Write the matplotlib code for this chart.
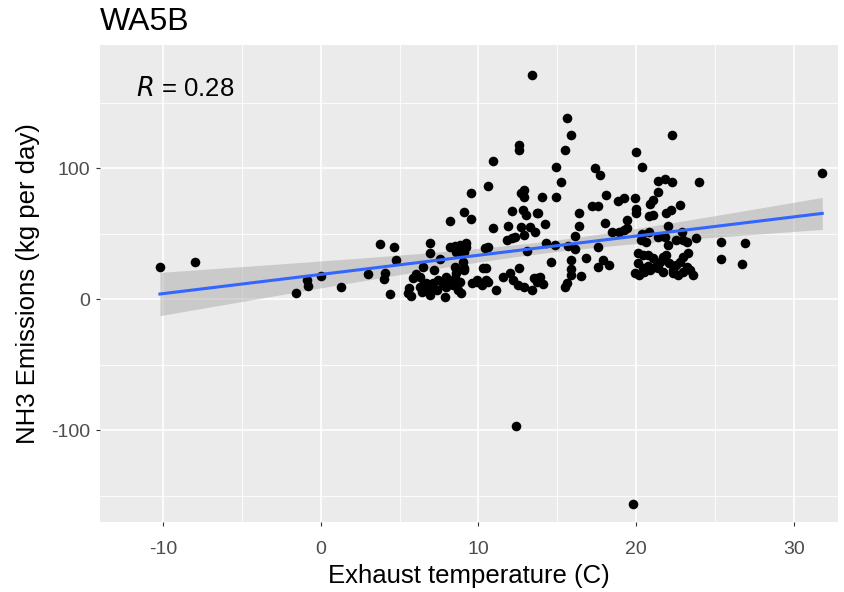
import numpy as np
import matplotlib
matplotlib.use("Agg")
import matplotlib.pyplot as plt

plt.rcParams['font.family'] = ['Liberation Sans', 'DejaVu Sans']
plt.rcParams['axes.unicode_minus'] = False

title = "WA5B"
x_label = "Exhaust temperature (C)"
y_label = "NH3 Emissions (kg per day)"
x_ticks = [-10, 0, 10, 20, 30]
y_ticks = [-100, 0, 100]
r_value = 0.28

temp = [
    -10.2, -7.95, -1.54, -0.87, -0.8, 0.0, 1.3,
    2.98, 3.74, 4.0, 4.1, 4.4, 4.63, 4.8, 5.55, 5.6, 5.75, 5.85,
    6.07, 6.28, 6.28, 6.47, 6.4, 6.5, 6.7, 6.8, 6.9, 6.9, 6.9, 7.0, 7.1, 7.2, 7.34, 7.44,
    7.55, 7.75, 7.86, 7.97, 7.97, 8.18, 8.18, 8.2, 8.3, 8.4, 8.5, 8.5, 8.5, 8.6, 8.6,
    8.7, 8.7, 8.8, 8.8, 8.9, 9.0, 9.07, 9.1, 9.1, 9.1, 9.2, 9.24, 9.55, 9.55, 9.6,
    9.9, 9.9, 10.2, 10.3, 10.4, 10.5, 10.5, 10.6, 10.6, 10.6, 10.9, 10.9, 11.1,
    11.55, 11.8, 11.9, 12.0, 12.1, 12.1, 12.2, 12.3, 12.4, 12.5, 12.6, 12.6, 12.6,
    12.7, 12.7, 12.8, 12.9, 12.9, 12.9, 12.9, 13.0, 13.05, 13.25, 13.4, 13.4, 13.5,
    13.6, 13.7, 13.7, 13.7, 13.8, 13.9, 14.05, 14.1, 14.25, 14.3, 14.6, 14.84, 14.9,
    14.9, 15.26, 15.5, 15.5, 15.6, 15.6, 15.7, 15.85, 15.9, 15.9, 15.9, 16.1, 16.1,
    16.4, 16.4, 16.5, 16.85, 17.2, 17.4, 17.6, 17.6, 17.6, 17.7, 17.9, 18.0, 18.1,
    18.3, 18.5, 18.85, 18.9, 19.2, 19.2, 19.4, 19.4, 19.8, 19.9, 19.9, 20.0, 20.0,
    20.0, 20.1, 20.1, 20.2, 20.3, 20.4, 20.4, 20.45, 20.45, 20.5, 20.65, 20.75, 20.75,
    20.8, 20.8, 20.9, 20.9, 21.1, 21.1, 21.1, 21.2, 21.4, 21.4, 21.4, 21.4, 21.5,
    21.7, 21.7, 21.8, 21.8, 21.9, 21.9, 22.0, 22.0, 22.1, 22.2, 22.3, 22.3, 22.35,
    22.35, 22.55, 22.55, 22.65, 22.8, 22.8, 22.9, 23.0, 23.0, 23.0, 23.2, 23.2, 23.3,
    23.4, 23.6, 23.8, 24.0, 25.4, 25.4, 26.7, 26.9, 31.8,
]
nh3 = [
    24.7, 28.0, 4.8, 14.5, 10.2, 17.8, 8.9,
    19.0, 42.0, 15.0, 19.8, 3.8, 40.0, 29.8, 4.8, 8.2, 2.5, 15.8,
    19.0, 17.0, 9.4, 24.7, 5.6, 10.7, 12.0, 8.4, 42.7, 35.0, 3.0, 8.2, 12.0, 22.1, 6.9, 14.5,
    30.5, 10.7, 1.5, 9.4, 17.0, 40.0, 59.5, 13.2, 12.0, 10.7, 16.0, 24.7, 40.5, 19.8, 36.1,
    6.9, 35.0, 41.2, 13.2, 4.6, 28.5, 66.6, 23.7, 22.1, 36.1, 42.7, 40.0, 81.0, 60.8, 12.0,
    13.2, 14.5, 10.7, 23.7, 39.0, 14.5, 23.4, 40.0, 13.2, 86.0, 54.0, 105.0, 6.9,
    17.0, 45.0, 55.7, 19.8, 67.4, 46.5, 14.5, 47.5, -96.7, 10.7, 117.5, 113.7, 23.7,
    55.0, 80.7, 68.0, 78.0, 48.9, 9.4, 83.0, 64.0, 36.9, 55.0, 6.9, 171.0, 15.8,
    51.4, 65.6, 16.0, 13.2, 66.0, 17.0, 78.0, 11.5, 57.0, 42.5, 28.0, 41.0, 77.6,
    101.0, 89.0, 114.0, 9.4, 12.0, 138.0, 40.5, 18.3, 125.0, 29.8, 22.7, 48.0, 38.0,
    66.0, 56.0, 17.8, 31.0, 71.0, 99.8, 71.0, 24.7, 39.5, 94.7, 29.8, 57.8, 79.4,
    26.0, 51.4, 74.8, 51.4, 76.9, 52.7, 60.3, 54.0, -156.5, 76.9, 19.6, 112.0, 69.0,
    65.4, 34.9, 27.2, 18.3, 45.0, 101.0, 50.0, 33.6, 23.4, 20.8, 43.7, 33.6, 25.2,
    63.4, 51.4, 72.3, 22.1, 75.6, 64.0, 31.0, 24.7, 90.3, 81.4, 47.6, 23.4, 28.5,
    32.3, 20.8, 91.6, 47.6, 65.9, 33.6, 55.7, 41.0, 27.2, 68.0, 125.0, 89.5, 22.1,
    19.6, 26.0, 45.0, 18.3, 71.8, 28.5, 51.4, 45.0, 32.3, 20.8, 43.7, 24.7, 34.9,
    22.1, 18.3, 46.3, 89.0, 43.7, 30.3, 26.5, 42.5, 96.4,
]

x = np.array(temp)
y = np.array(nh3)

fig = plt.figure(figsize=(8.45, 5.92), dpi=100)
ax = fig.add_axes([100/845, 1-522/592, 738/845, 477/592])
ax.set_facecolor('#EBEBEB')
for s in ax.spines.values():
    s.set_visible(False)

ax.set_xlim(-14.0, 32.8)
ax.set_ylim(-170.2, 193.9)
ax.set_xticks(x_ticks)
ax.set_yticks(y_ticks)
ax.set_xticks([-5, 5, 15, 25], minor=True)
ax.set_yticks([-150, -50, 50, 150], minor=True)
ax.grid(which='major', color='white', linewidth=1.2)
ax.grid(which='minor', color='white', linewidth=0.6)
ax.set_axisbelow(True)
ax.tick_params(which='major', length=3, width=0.8, color='#333333',
               labelsize=14, labelcolor='#4D4D4D')
ax.tick_params(axis='x', which='major', pad=11)
ax.tick_params(axis='y', which='major', pad=4)
ax.tick_params(which='minor', length=0)

# linear fit with 95% confidence band
n = len(x)
slope, intercept = np.polyfit(x, y, 1)
xs = np.linspace(x.min(), x.max(), 200)
ys = intercept + slope * xs
resid = y - (intercept + slope * x)
s_err = np.sqrt(np.sum(resid**2) / (n - 2))
sxx = np.sum((x - x.mean())**2)
se = s_err * np.sqrt(1/n + (xs - x.mean())**2 / sxx)
tval = 1.972
ax.fill_between(xs, ys - tval*se, ys + tval*se, color='#999999', alpha=0.4,
                linewidth=0, zorder=2)

ax.scatter(x, y, s=48, color='black', linewidths=0, zorder=3)
ax.plot(xs, ys, color='#3366FF', linewidth=2.2, zorder=4)

ax.text(-11.7, 160, "$R$ = %.2f" % r_value, fontsize=18.5, ha='left', va='center',
        color='black')

ax.set_xlabel(x_label, fontsize=18.5, labelpad=4)
ax.set_ylabel(y_label, fontsize=18.5, labelpad=8)
fig.text(100/845, 1-22/592, title, fontsize=23, ha='left', va='center')

fig.savefig("out.png", dpi=100)
